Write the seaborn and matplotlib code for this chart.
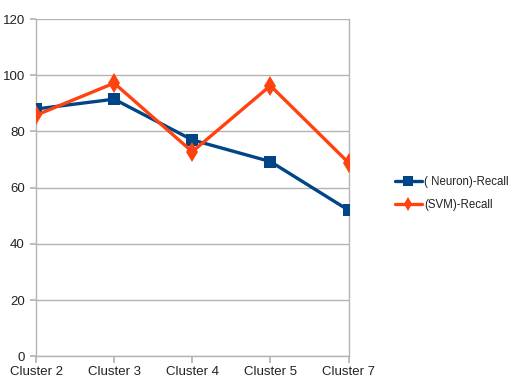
import matplotlib
matplotlib.use("Agg")
import matplotlib.pyplot as plt
import seaborn as sns
import pandas as pd
from matplotlib.lines import Line2D

categories = ["Cluster 2", "Cluster 3", "Cluster 4", "Cluster 5", "Cluster 7"]
neuron_recall = [88, 91.5, 77, 69.3, 52]
svm_recall = [85.8, 97.2, 72.8, 96.3, 68.9]
series_names = ["( Neuron)-Recall", "(SVM)-Recall"]
y_ticks = [0, 20, 40, 60, 80, 100, 120]

sns.set_theme(style="white")
plt.rcParams["font.family"] = ["Liberation Sans", "DejaVu Sans"]

df = pd.DataFrame({
    "Cluster": categories * 2,
    "Recall": neuron_recall + svm_recall,
    "Series": [series_names[0]] * len(categories) + [series_names[1]] * len(categories),
})

fig = plt.figure(figsize=(5.11, 3.85), dpi=100)
ax = fig.add_axes([0.0705, 0.0745, 0.6115, 0.876])

colors = {series_names[0]: "#004586", series_names[1]: "#ff420e"}
markers = {series_names[0]: "s", series_names[1]: "d"}
sizes = {series_names[0]: 8.5, series_names[1]: 10}
for name in series_names:
    sub = df[df["Series"] == name]
    sns.lineplot(data=sub, x="Cluster", y="Recall", ax=ax, color=colors[name],
                 marker=markers[name], markersize=sizes[name], linewidth=2.4,
                 markeredgewidth=0, label=name, legend=False, zorder=3)

ax.set_xlim(0, len(categories) - 1)
ax.set_ylim(0, 120)
ax.set_yticks(y_ticks)
ax.set_xlabel("")
ax.set_ylabel("")
ax.grid(axis="y", color="#b3b3b3", linewidth=1)
ax.grid(axis="x", visible=False)
ax.set_axisbelow(True)
for s in ["left", "right", "bottom"]:
    ax.spines[s].set_color("#b3b3b3")
    ax.spines[s].set_linewidth(1)
ax.spines["top"].set_visible(False)
ax.tick_params(axis="x", which="both", bottom=True, length=5, color="#b3b3b3",
               labelsize=9.5, pad=2, labelcolor="#222222")
ax.tick_params(axis="y", left=True, length=4, color="#b3b3b3", labelsize=9.5,
               pad=4, labelcolor="#222222")

handles = [Line2D([0], [0], color=colors[n], marker=markers[n],
                  markersize=7, markeredgewidth=0, linewidth=2.4)
           for n in series_names]
fig.legend(handles, series_names, loc="center left", bbox_to_anchor=(0.773, 0.497),
           frameon=False, fontsize=8.3, handlelength=2.3, handletextpad=0.25,
           labelspacing=0.9, borderpad=0, borderaxespad=0, labelcolor="#222222")

fig.savefig("out.png", dpi=100)
